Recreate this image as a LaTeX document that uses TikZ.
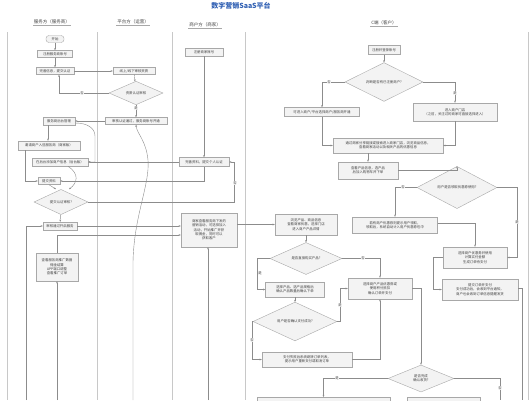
\documentclass[tikz,border=0pt]{standalone}
\usepackage{fontspec}
\setmainfont{Noto Sans CJK SC}
\usetikzlibrary{shapes.geometric,arrows.meta}
\definecolor{boxline}{HTML}{A8A8A8}
\definecolor{boxfill}{HTML}{F3F3F3}
\definecolor{linec}{HTML}{8C8C8C}
\definecolor{txt}{HTML}{404040}
\definecolor{lanec}{HTML}{C8C8C8}
\definecolor{titleblue}{HTML}{2F5FB3}
\tikzset{
  box/.style={draw=boxline, fill=boxfill, line width=0.4pt, inner sep=0.6pt, align=center, font=\fontsize{3.4}{4.3}\selectfont, text=txt},
  dia/.style={diamond, draw=boxline, fill=boxfill, line width=0.4pt, inner sep=0pt, align=center, font=\fontsize{3.4}{4.3}\selectfont, text=txt},
  link/.style={draw=linec, line width=0.4pt},
  arr/.style={link, -{Stealth[length=2.2pt,width=1.8pt]}},
  lab/.style={font=\fontsize{3.4}{4}\selectfont, text=txt, fill=white, inner sep=0.4pt},
  lane/.style={draw=lanec, line width=0.6pt},
  hdr/.style={font=\fontsize{4.5}{5}\selectfont, text=txt, inner sep=0.8pt},
  hline/.style={draw=boxline, line width=0.4pt}
}
\begin{document}
\begin{tikzpicture}[x=1pt,y=-1pt]
\useasboundingbox (0,0) rectangle (531,400);
\clip (0,0) rectangle (531,400);
\fill[white] (0,0) rectangle (531,400);

% title and lanes
\node[font=\fontsize{7}{8}\selectfont\bfseries, text=titleblue] (title) at (241,6) {数字营销SaaS平台};
\foreach \x in {7,97,172,245,528} \draw[lane] (\x,32) -- (\x,400);
\node[hdr] (h1) at (52,22) {服务方（服务商）};
\node[hdr] (h2) at (133,22) {平台方（运营）};
\node[hdr] (h3) at (205,25) {商户方（商家）};
\node[hdr] (h4) at (384,23) {C端（客户）};
\foreach \h in {h1,h2,h3,h4} \draw[hline] (\h.south west) -- (\h.south east);

% lane 1
\node[box, rounded corners=3pt, minimum width=18, minimum height=7] (s1) at (55,39) {开始};
\node[box, minimum width=35, minimum height=7] (a1) at (55,54) {注册服务商账号};
\node[box, minimum width=38, minimum height=7] (a2) at (55,71) {完善信息，提交认证};
\node[box, minimum width=32, minimum height=8] (a3) at (59,121) {服务商后台管理};
\node[box, minimum width=62, minimum height=9] (a4) at (49,145.5) {邀请商户入驻服务商（商家版）};
\node[box, minimum width=56, minimum height=8] (a5) at (60,162) {在后台添加商户信息（后台版）};
\node[box, minimum width=22, minimum height=7] (a6) at (49,181) {提交资料};
\node[dia, minimum width=54, minimum height=20] (d1) at (61,202) {提交认证审核?};
\node[box, minimum width=34, minimum height=8] (a7) at (60,226) {审核通过开启服务};
\node[box, minimum width=42, minimum height=28] (a8) at (57,267) {查看服务商推广数据\\佣金结算\\APP端口调整\\查看推广订单};

% lane 2
\node[box, minimum width=42, minimum height=7] (b1) at (134,71) {线上/线下审核资质};
\node[dia, minimum width=54, minimum height=20] (d2) at (136,93) {资质认证审核};
\node[box, minimum width=62, minimum height=7] (b2) at (136,121) {审核认证通过，服务商账号开通};

% lane 3
\node[box, minimum width=38, minimum height=8] (c1) at (204,52) {注册商家账号};
\node[box, minimum width=50, minimum height=9] (c2) at (204,162) {完善资料，提交个人认证};
\node[box, minimum width=56, minimum height=34] (c3) at (209,230) {商家查看服务商下发的\\营销活动，可选择加入\\活动，开始推广并获\\取佣金，同时可以\\获取客户};

% lane 4
\node[box, minimum width=32, minimum height=9] (e1) at (384,50) {注册并登录账号};
\node[dia, minimum width=78, minimum height=29] (d3) at (384,82) {判断是否有已注册商户?};
\node[box, minimum width=75, minimum height=9] (e2) at (322,112) {可进入商户/平台选择商户/服务商开通};
\node[box, minimum width=84, minimum height=18] (e3) at (455,112) {进入商户门店\\（之前，关注过的商家可直接选择进入）};
\node[box, minimum width=110, minimum height=15] (e4) at (388,145.5) {通过商家分享链接或搜索进入商家门店，浏览商品信息，\\查看商家活动以及相关产品的优惠信息};
\node[box, minimum width=60, minimum height=17] (e5) at (368,170.5) {查看产品信息，选产品\\后加入购物车并下单};
\node[dia, minimum width=80, minimum height=29] (d4) at (457,187.5) {用户是否领取优惠券使用?};
\node[box, minimum width=85, minimum height=16] (e6) at (395,225) {若有商户优惠券则提示用户领取，\\领取后，系统自动计入用户优惠券包中};
\node[box, minimum width=64, minimum height=21] (e7) at (475,257.5) {选择商户优惠券并使用\\计算实付金额\\生成订单待支付};
\node[box, minimum width=76, minimum height=21] (e8) at (480,289.5) {提交订单并支付\\支付成功后，会收到平台通知，\\商户也会收到订单信息提醒发货};
\node[box, minimum width=62, minimum height=21] (e9) at (306,224.5) {浏览产品、商品信息\\查看商家优惠，选择门店\\进入商户产品详情};
\node[dia, minimum width=72, minimum height=27] (d5) at (306,258.5) {是否直接购买产品?};
\node[box, minimum width=59, minimum height=15] (e10) at (295,289.5) {选择产品、选产品规格后\\确认产品数量后确认下单};
\node[box, minimum width=64, minimum height=21] (e11) at (380,288.5) {选择商户产品优惠券或\\使用积分抵扣\\确认订单并支付};
\node[dia, minimum width=84, minimum height=29] (d6) at (295,321.5) {用户是否确认支付成功?};
\node[box, minimum width=90, minimum height=15] (e12) at (307,359.5) {支付失败后系统跳转订单列表，\\提示用户重新支付或取消订单};
\node[dia, minimum width=66, minimum height=27] (d7) at (421,378.5) {是否完成\\确认收货?};
\node[box, minimum width=133, minimum height=14, anchor=north] (e13) at (323.5,397) {};
\node[box, minimum width=73, minimum height=14, anchor=north] (e14) at (443.5,397) {};

% free ends
\coordinate (in1) at (26,400);
\coordinate (in2) at (57,400);
\coordinate (in3) at (133,400);
\coordinate (in4) at (208,400);
\coordinate (out1) at (522,400);
\coordinate (out2) at (500,400);

% connectors lane 1/2/3
\draw[arr] (s1) -- (a1);
\draw[arr] (a1) -- (a2);
\draw[arr] (a2) -- (b1);
\draw[arr] (b1) -- (d2);
\draw[arr] (d2.west) -| ([xshift=4pt]a2.south);
\draw[arr] (d2) -- (b2);
\draw[arr] (b2.west) -- (a3.east);
\draw[arr] ([xshift=-11pt]a3.south) -- ([xshift=-11pt]a3.south |- a4.north);
\draw[arr] ([yshift=-2pt]a3.east) .. controls +(12,0) and +(0,-8) .. (95,136) |- (a5.east);
\draw[arr] (c1) -- (c2);
\draw[arr] (c2.west) -- (a5.east);
\draw[arr] ([xshift=-24pt]a4.south) |- (a6.west);
\draw[arr] (c2.south) |- (a6.east);
\draw[arr] (a6.south) -- ([xshift=-5pt]d1.north);
\draw[arr] ([xshift=8pt]a5.south) .. controls +(12,8) and +(8,-6) .. ([xshift=8pt]d1.north);
\draw[arr] (d1.east) -| ([xshift=5pt]c2.east) -- (c2.east);
\draw[arr] (d1) -- (a7);
\draw[arr] (a7.east) -- (a7.east -| c3.west);
\draw[arr] (a8.north) |- ([yshift=-5pt]c3.west);
\draw[arr] (in1) |- (a7.west);
\draw[arr] (in2) -- (a8.south);
\draw[arr] (in3) -- (133,262) .. controls (134,215) and (150,185) .. (148,160) .. controls (146,140) and (137,134) .. (b2.south);
\draw[arr] (in4) -- (in4 |- c3.south);
\draw[arr] ([yshift=5.5pt]c3.east) -- (e9.west);

% connectors lane 4
\draw[arr] (e1) -- (d3);
\draw[arr] (d3.west) -| (e2.north);
\draw[arr] (d3.east) -| (e3.north);
\draw[arr] (e2.south) |- (e4.west);
\draw[arr] (e3.south) |- (e4.east);
\draw[arr] (e5.north |- e4.south) -- (e5.north);
\draw[arr] (e5.east) -| (d4.north);
\draw[arr] (d4.west) -| (e6.north);
\draw[arr] (d4.east) -| ([xshift=10pt]e7.east) -- (e7.east);
\draw[arr] ([yshift=2pt]e6.east) -| (e7.north);
\draw[arr] (e7.west) -| ([xshift=-9pt]e8.west) -- (e8.west);
\draw[link] ([yshift=1.5pt]e8.east) -| (out1);
\draw[arr] (e9) -- (d5);
\draw[arr] (d5.west) -| ([xshift=-8pt]e10.west) -- (e10.west);
\draw[arr] (d5.east) -| (e11.north);
\draw[arr] (e10) -- (d6);
\draw[arr] (d6.west) -| ([xshift=-10pt]e12.west) -- (e12.west);
\draw[arr] (d6.east) -| ([xshift=-8pt]e11.west) -- (e11.west);
\draw[arr] (e12.east) -| (e11.south);
\draw[arr] (e11.east) -| (d7.north);
\draw[arr] (d7.west) -| (e13.north);
\draw[link] (d7.east) -| (out2);

% labels
\node[lab] (l1) at (82,93) {否};
\node[lab] (l2) at (136,108) {是};
\node[lab] (l3) at (235,183) {否};
\node[lab] (l4) at (329,82) {否};
\node[lab] (l5) at (455,93) {是};
\node[lab] (l6) at (403,187.5) {否};
\node[lab] (l7) at (517,222) {是};
\node[lab] (l8) at (260,273) {是};
\node[lab] (l9) at (363,258.5) {否};
\node[lab] (l10) at (252,340) {否};
\node[lab] (l11) at (340,305) {是};
\node[lab] (l12) at (337,378.5) {是};
\node[lab] (l13) at (500,388) {否};
\end{tikzpicture}
\end{document}
